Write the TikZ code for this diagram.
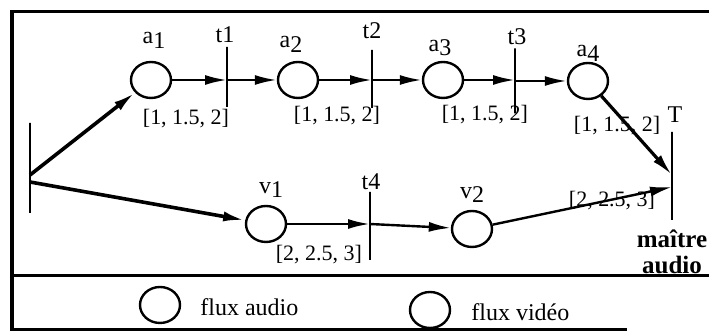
\documentclass[tikz,border=0pt]{standalone}
\usepackage{fontspec}
\setmainfont{Liberation Serif}
\usetikzlibrary{shapes.geometric, arrows.meta, positioning, calc}
\newcommand{\idx}[1]{\raisebox{-0.45ex}{#1}}

\begin{document}
\begin{tikzpicture}[x=0.5pt, y=-0.5pt,
  place/.style={ellipse, draw, line width=1.2pt, minimum width=20pt, minimum height=18pt, inner sep=0pt},
  bar/.style={rectangle, draw, line width=1pt, minimum width=0pt, inner sep=0pt},
  lbl/.style={inner sep=0pt, font=\fontsize{12}{14}\selectfont},
  intv/.style={inner sep=0pt, font=\fontsize{11}{13}\selectfont},
  arr/.style={-{Latex[length=11pt, width=5pt]}, line width=1.2pt},
  frame/.style={line width=1.5pt}
]
\useasboundingbox (0,0) rectangle (709,336);

% Frame and legend box
\draw[frame] (709,12) -- (12,12) -- (12,330) -- (627,330);
\draw[frame] (12,276) -- (709,276);

% Audio path
\node[bar, minimum height=45pt] (src) at (30,168) {};
\node[place] (a1) at (151,80) {};
\node[bar, minimum height=30pt] (t1) at (227,77) {};
\node[place] (a2) at (298,80) {};
\node[bar, minimum height=29pt] (t2) at (372,79) {};
\node[place] (a3) at (443,80) {};
\node[bar, minimum height=32.5pt] (t3) at (515,81) {};
\node[place] (a4) at (588,81) {};
\node[bar, minimum height=44pt] (T) at (672,176) {};

% Video path
\node[place] (v1) at (266,224) {};
\node[bar, minimum height=34pt] (t4) at (370,226) {};
\node[place] (v2) at (472,229) {};

% Labels
\node[lbl] (a1l) at (154,40) {a\idx{1}};
\node[lbl] (a2l) at (291,44) {a\idx{2}};
\node[lbl] (a3l) at (440,48) {a\idx{3}};
\node[lbl] (a4l) at (588,53) {a\idx{4}};
\node[lbl] (v1l) at (271,190) {v\idx{1}};
\node[lbl] (v2l) at (472,195) {v\idx{2}};
\node[lbl] (t1l) at (225,35) {t1};
\node[lbl] (t2l) at (372,31) {t2};
\node[lbl] (t3l) at (517,37) {t3};
\node[lbl] (t4l) at (371,182) {t4};
\node[lbl] (Tl) at (675,115) {T};
\node[lbl, font=\bfseries\fontsize{12.5}{13}\selectfont, align=center] (mt) at (672,252) {maître\\audio};

% Intervals
\node[intv] (i1) at (186,119) {[1, 1.5, 2]};
\node[intv] (i2) at (337,116) {[1, 1.5, 2]};
\node[intv] (i3) at (485,115) {[1, 1.5, 2]};
\node[intv] (i4) at (617,126) {[1, 1.5, 2]};
\node[intv] (i5) at (319,255) {[2, 2.5, 3]};
\node[intv] (i6) at (612,201) {[2, 2.5, 3]};

% Arcs
\draw[arr, line width=1.8pt] ([yshift=-3.5pt]src.center) -- (a1);
\draw[arr, line width=1.8pt] ([yshift=-7pt]src.center) -- (v1);
\draw[arr] (a1) -- (t1 |- a1);
\draw[arr] (t1 |- a2) -- (a2);
\draw[arr] (a2) -- (t2 |- a2);
\draw[arr] (t2 |- a3) -- (a3);
\draw[arr] (a3) -- (t3 |- a3);
\draw[arr] (t3 |- a4) -- (a4);
\draw[arr, line width=1.6pt] (a4) -- ([yshift=0.5pt]T.center);
\draw[arr] (v1) -- (t4 |- v1);
\draw[arr] (t4 |- v1) -- (v2);
\draw[arr] (v2) -- ([yshift=-5.5pt]T.center);

% Legend
\node[place] (kaudio) at (160,305) {};
\node[lbl, anchor=west] (kaudiol) at (200,307) {flux audio};
\node[place] (kvideo) at (430,310) {};
\node[lbl, anchor=west] (kvideol) at (471,312) {flux vidéo};
\end{tikzpicture}
\end{document}
